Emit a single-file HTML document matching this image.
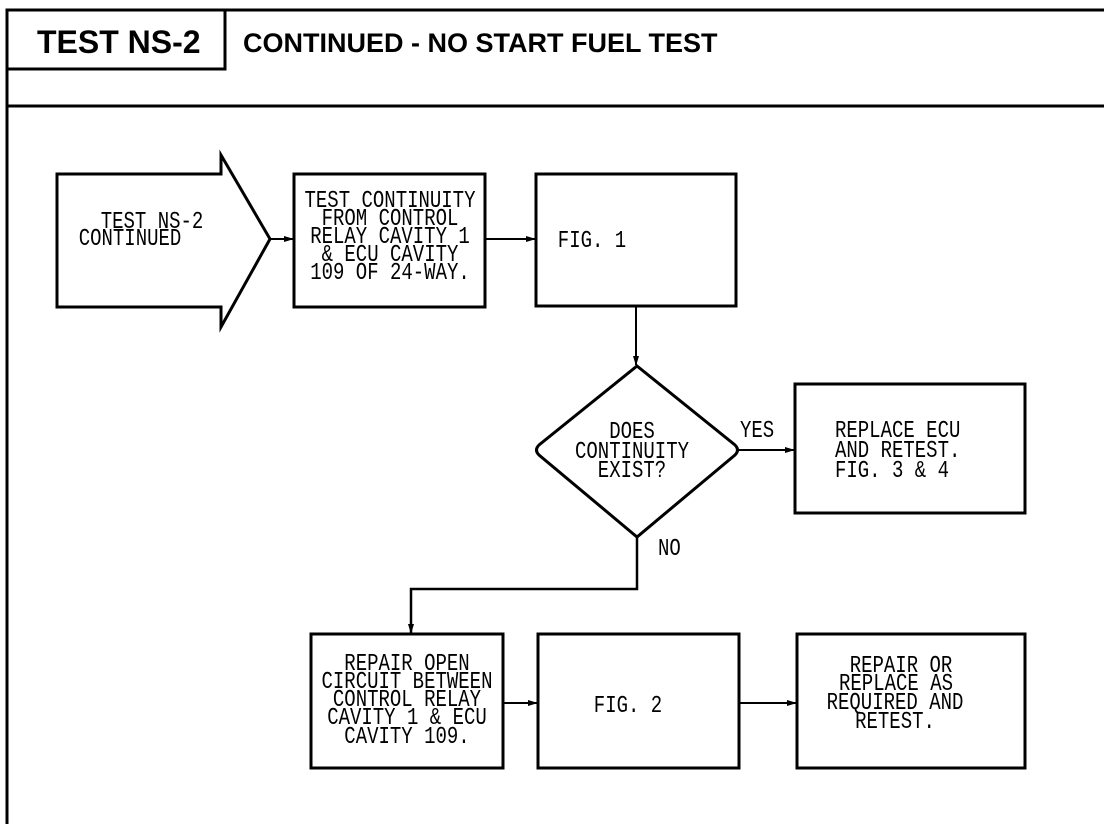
<!DOCTYPE html>
<html><head><style>
html,body{margin:0;padding:0;background:#fff;}
svg{display:block}
text{font-family:"Liberation Mono",monospace;font-size:19px;fill:#000;}
.h{font-family:"Liberation Sans",sans-serif;font-weight:bold;}
</style></head><body>
<svg width="1104" height="824" viewBox="0 0 1104 824" xmlns="http://www.w3.org/2000/svg">
<defs><marker id="a" markerWidth="10" markerHeight="8" refX="9" refY="4" orient="auto" markerUnits="userSpaceOnUse"><path d="M0,1 L10,4 L0,7 Z" fill="#000"/></marker></defs>
<g fill="none" stroke="#000" stroke-width="3">
<path d="M7,824 V10 H1104"/>
<path d="M7,106 H1104"/>
<path d="M7,69 H225 V10"/>
<path d="M57,174 H221 V155 L270,239 L221,327 V307 H57 Z"/>
<rect x="294" y="174" width="191" height="133"/>
<rect x="536" y="174" width="200" height="132"/>
<path d="M637,366 L735,445 Q740,450 735,455 L637,537 L539,455 Q534,450 539,445 Z"/>
<rect x="795" y="384" width="230" height="129"/>
<rect x="311" y="634" width="192" height="134"/>
<rect x="538" y="634" width="201" height="134"/>
<rect x="797" y="634" width="228" height="134"/>
</g>
<g fill="none" stroke="#000" stroke-width="2">
<path d="M270,239 H293" marker-end="url(#a)"/>
<path d="M485,239 H535" marker-end="url(#a)"/>
<path d="M636,306 V365" marker-end="url(#a)"/>
<path d="M737,450 H794" marker-end="url(#a)"/>
<path d="M637,537 V589 H411 V633" marker-end="url(#a)" stroke-width="2.5"/>
<path d="M503,703 H537" marker-end="url(#a)"/>
<path d="M739,703 H796" marker-end="url(#a)"/>
</g>
<text class="h" x="37" y="53" style="font-size:32px">TEST NS-2</text>
<text class="h" x="243" y="52" style="font-size:27px">CONTINUED - NO START FUEL TEST</text>
<g transform="scale(1,1.25)">
<g text-anchor="middle">
<text x="152" y="182.4">TEST NS-2</text>
<text x="130" y="196">CONTINUED</text>
<text x="390" y="165.6">TEST CONTINUITY</text>
<text x="390" y="180">FROM CONTROL</text>
<text x="390" y="194.4">RELAY CAVITY 1</text>
<text x="390" y="208.8">&amp; ECU CAVITY</text>
<text x="390" y="223.2">109 OF 24-WAY.</text>
<text x="592" y="197.6">FIG. 1</text>
<text x="632" y="350.4">DOES</text>
<text x="632" y="366.4">CONTINUITY</text>
<text x="632" y="381.6">EXIST?</text>
<text x="407" y="536">REPAIR OPEN</text>
<text x="407" y="550.4">CIRCUIT BETWEEN</text>
<text x="407" y="564.8">CONTROL RELAY</text>
<text x="407" y="579.2">CAVITY 1 &amp; ECU</text>
<text x="407" y="594.4">CAVITY 109.</text>
<text x="628" y="569.6">FIG. 2</text>
<text x="901" y="537.6">REPAIR OR</text>
<text x="896" y="552">REPLACE AS</text>
<text x="895" y="567.2">REQUIRED AND</text>
<text x="895" y="582.4">RETEST.</text>
</g>
<text x="740" y="349.6">YES</text>
<text x="658" y="444">NO</text>
<text x="835" y="349.6">REPLACE ECU</text>
<text x="835" y="365.6">AND RETEST.</text>
<text x="835" y="381.6">FIG. 3 &amp; 4</text>
</g>
</svg>
</body></html>
